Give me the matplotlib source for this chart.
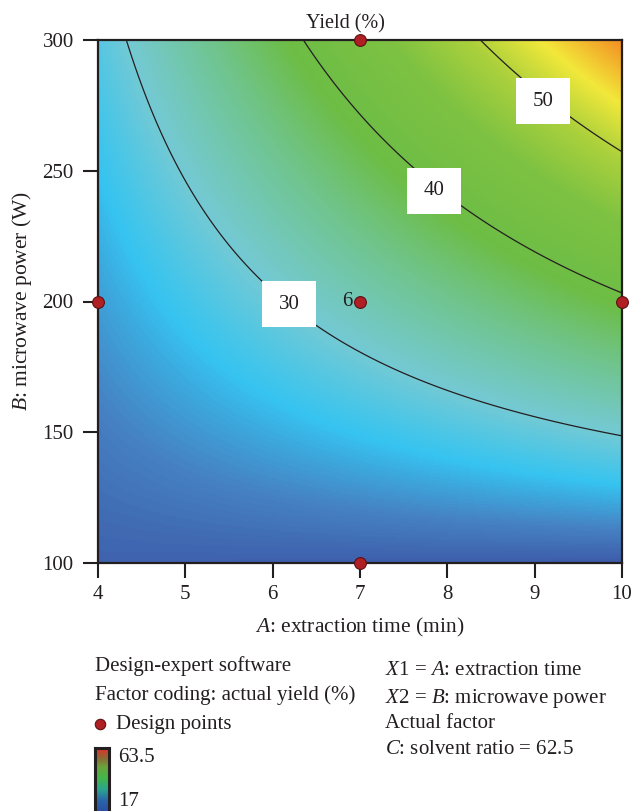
import numpy as np
import matplotlib
matplotlib.use("Agg")
import matplotlib.pyplot as plt
from matplotlib.colors import LinearSegmentedColormap, Normalize
from matplotlib.patches import Rectangle
from matplotlib.lines import Line2D

plt.rcParams['font.family'] = ['Liberation Serif', 'DejaVu Serif']
plt.rcParams['mathtext.fontset'] = 'custom'
plt.rcParams['mathtext.rm'] = 'Liberation Serif'
plt.rcParams['mathtext.it'] = 'Liberation Serif:italic'

# ---------------- data ----------------
# fitted quadratic model in coded units (a=(A-7)/3, b=(B-200)/100)
coef_terms = ["Intercept", "A", "B", "AB", "A2", "B2"]
coef_values = [32.1, 7.3, 10.9, 7.5, 0.0, 0.2]
A_range = [4, 10]          # extraction time (min)
B_range = [100, 300]       # microwave power (W)
x_ticks = [4, 5, 6, 7, 8, 9, 10]
y_ticks = [100, 150, 200, 250, 300]
contour_levels = [30, 40, 50]
design_A = [4, 7, 7, 7, 10]
design_B = [200, 300, 200, 100, 200]
center_reps = 6
cbar_min, cbar_max = 17, 63.5

TXT = '#231f20'

# surface colour ramp (value, colour)
surf_stops = [(17.0, '#2d4596'), (21.0, '#3d5aa8'), (23.5, '#4683c4'),
              (26.5, '#36c4f0'), (30.0, '#74cad4'), (35.0, '#70c48a'),
              (39.0, '#6dbd46'), (45.0, '#7ec242'), (49.5, '#acd13c'),
              (53.5, '#f2e83a'), (58.0, '#f39024'), (63.5, '#e6402a')]
surf_cmap = LinearSegmentedColormap.from_list(
    'surf', [((v - cbar_min) / (cbar_max - cbar_min), c) for v, c in surf_stops])
bar_cmap = LinearSegmentedColormap.from_list(
    'bar', [(0.0, '#2b4a9f'), (0.2, '#2a62aa'), (0.38, '#2aa58f'),
            (0.55, '#43b64a'), (0.72, '#6aa43c'), (0.85, '#8c6a34'), (1.0, '#e2302a')])

# ---------------- figure ----------------
W, H = 633, 811
fig = plt.figure(figsize=(W / 100, H / 100), dpi=100)
ax = fig.add_axes([98 / W, 1 - 563 / H, 524 / W, 523 / H])

A = np.linspace(A_range[0], A_range[1], 301)
B = np.linspace(B_range[0], B_range[1], 301)
AA, BB = np.meshgrid(A, B)
a = (AA - 7) / 3
b = (BB - 200) / 100
b0, b1, b2, b12, b11, b22 = coef_values
Y = b0 + b1 * a + b2 * b + b12 * a * b + b11 * a ** 2 + b22 * b ** 2

norm = Normalize(cbar_min, cbar_max)
ax.imshow(Y, extent=(A_range[0], A_range[1], B_range[0], B_range[1]), origin='lower',
          aspect='auto', cmap=surf_cmap, norm=norm, interpolation='bilinear')
ax.contour(AA, BB, Y, levels=contour_levels, colors=TXT, linewidths=0.9)

# contour label boxes
label_pos = [(6.19, 199.0), (7.85, 242.4), (9.10, 276.5)]
bw, bh = 54 / 87.33, 46 / 2.615
for lvl, (lx, ly) in zip(contour_levels, label_pos):
    ax.add_patch(Rectangle((lx - bw / 2, ly - bh / 2), bw, bh, fc='white', ec='none', zorder=4))
    ax.text(lx, ly, f"{lvl}", ha='center', va='center', fontsize=15, color=TXT, zorder=5)

ax.plot(design_A, design_B, 'o', ms=8.5, mfc='#b01f24', mec='#5a1214', mew=0.8,
        clip_on=False, zorder=6)
ax.annotate(f"{center_reps}", xy=(7, 200), xytext=(-5.5, 0), textcoords='offset points',
            ha='right', va='center', fontsize=15, color=TXT, zorder=6)

ax.set_xlim(A_range)
ax.set_ylim(B_range)
ax.set_xticks(x_ticks)
ax.set_yticks(y_ticks)
for s in ax.spines.values():
    s.set_linewidth(1.6)
    s.set_color(TXT)
ax.tick_params(axis='both', direction='out', length=10.5, width=1.5, color=TXT,
               labelsize=15, labelcolor=TXT)
ax.tick_params(axis='x', pad=5)
ax.tick_params(axis='y', pad=7)

fig.text(345 / W, 1 - 28 / H, "Yield (%)", ha='center', va='baseline', fontsize=14.5, color=TXT)
fig.text(360 / W, 1 - 632 / H, r"$A$: extraction time (min)", ha='center', va='baseline',
         fontsize=15.5, color=TXT)
fig.text(22 / W, 1 - 301 / H, r"$B$: microwave power (W)", ha='center', va='center',
         rotation=90, fontsize=15.5, color=TXT)

# legend block
fs = 15
fig.text(95 / W, 1 - 671 / H, "Design-expert software", ha='left', va='baseline', fontsize=fs, color=TXT)
fig.text(95 / W, 1 - 700 / H, "Factor coding: actual yield (%)", ha='left', va='baseline', fontsize=fs, color=TXT)
fig.add_artist(Line2D([100 / W], [1 - 724 / H], marker='o', ms=7.5, mfc='#b01f24', mec='#5a1214',
                      mew=0.8, transform=fig.transFigure))
fig.text(116 / W, 1 - 729 / H, "Design points", ha='left', va='baseline', fontsize=fs, color=TXT)

cax = fig.add_axes([95 / W, 1 - 815 / H, 14 / W, (815 - 748) / H])
grad = np.linspace(cbar_min, cbar_max, 200).reshape(-1, 1)
cax.imshow(grad, origin='lower', aspect='auto', cmap=bar_cmap, norm=norm,
           extent=(0, 1, cbar_min, cbar_max + 8))
cax.set_xticks([])
cax.set_yticks([])
for s in cax.spines.values():
    s.set_linewidth(2.2)
    s.set_color(TXT)
fig.text(118 / W, 1 - 762 / H, f"{cbar_max}", ha='left', va='baseline', fontsize=fs, color=TXT)
fig.text(118 / W, 1 - 806 / H, f"{cbar_min}", ha='left', va='baseline', fontsize=fs, color=TXT)

fig.text(385 / W, 1 - 675 / H, r"$X1$ = $A$: extraction time", ha='left', va='baseline', fontsize=fs, color=TXT)
fig.text(385 / W, 1 - 703 / H, r"$X2$ = $B$: microwave power", ha='left', va='baseline', fontsize=fs, color=TXT)
fig.text(385 / W, 1 - 728 / H, "Actual factor", ha='left', va='baseline', fontsize=fs, color=TXT)
fig.text(385 / W, 1 - 754 / H, r"$C$: solvent ratio = 62.5", ha='left', va='baseline', fontsize=fs, color=TXT)

fig.savefig("out.png", dpi=100)
